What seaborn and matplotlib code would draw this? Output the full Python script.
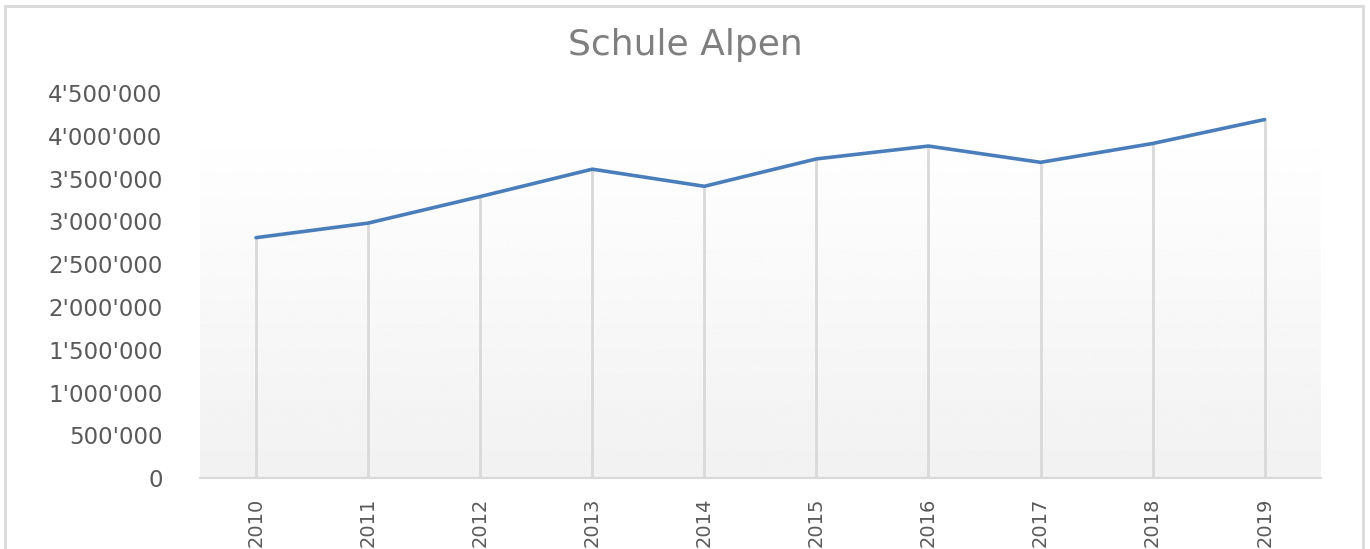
import numpy as np
import matplotlib
matplotlib.use("Agg")
import matplotlib.pyplot as plt
from matplotlib.ticker import FuncFormatter, MultipleLocator
from matplotlib.patches import Rectangle
import seaborn as sns

years = ["2010", "2011", "2012", "2013", "2014", "2015", "2016", "2017", "2018", "2019"]
betrag = [2810000, 2980000, 3290000, 3610000, 3410000, 3730000, 3880000, 3690000, 3910000, 4190000]

sns.set_style("white")
plt.rcParams["font.family"] = ["DejaVu Sans"]

fig = plt.figure(figsize=(13.7, 5.49), dpi=100)
ax = fig.add_axes([0.146, 0.129, 0.818, 0.7016])

# Plotflaeche mit Verlauf (unten grau, oben weiss)
grad = np.linspace(0.945, 0.997, 256).reshape(-1, 1)
ax.imshow(grad, cmap="gray", vmin=0, vmax=1, origin="lower", aspect="auto",
          extent=(-0.5, len(years) - 0.5, 0, 3920000), zorder=0)

pos = np.arange(len(years))
ax.vlines(pos, 0, betrag, color="#d9d9d9", lw=2, zorder=1)
sns.lineplot(x=pos, y=betrag, ax=ax, color="#4a7ebb", lw=2.6, zorder=3)

ax.set_xlim(-0.5, len(years) - 0.5)
ax.set_ylim(0, 4500000)
ax.set_xticks(pos)
ax.set_xticklabels(years, rotation=90, fontsize=14, color="#595959")
ax.yaxis.set_major_locator(MultipleLocator(500000))
ax.yaxis.set_major_formatter(FuncFormatter(lambda v, p: f"{int(v):,}".replace(",", "'")))
ax.tick_params(axis="y", labelsize=16.5, labelcolor="#595959", length=0, pad=27)
ax.tick_params(axis="x", length=0, pad=14)

for s in ["top", "right", "left"]:
    ax.spines[s].set_visible(False)
ax.spines["bottom"].set_color("#d9d9d9")
ax.spines["bottom"].set_linewidth(1.5)
ax.set_xlabel("")
ax.set_ylabel("")

fig.text(0.5005, 0.918, "Schule Alpen", ha="center", va="center", fontsize=26, color="#7f7f7f")

# Rahmen um das Diagramm
fig.patches.append(Rectangle((0.0036, -0.05), 0.9913, 1.039, transform=fig.transFigure,
                             fill=False, edgecolor="#d9d9d9", lw=2))

fig.savefig("out.png", dpi=100)
